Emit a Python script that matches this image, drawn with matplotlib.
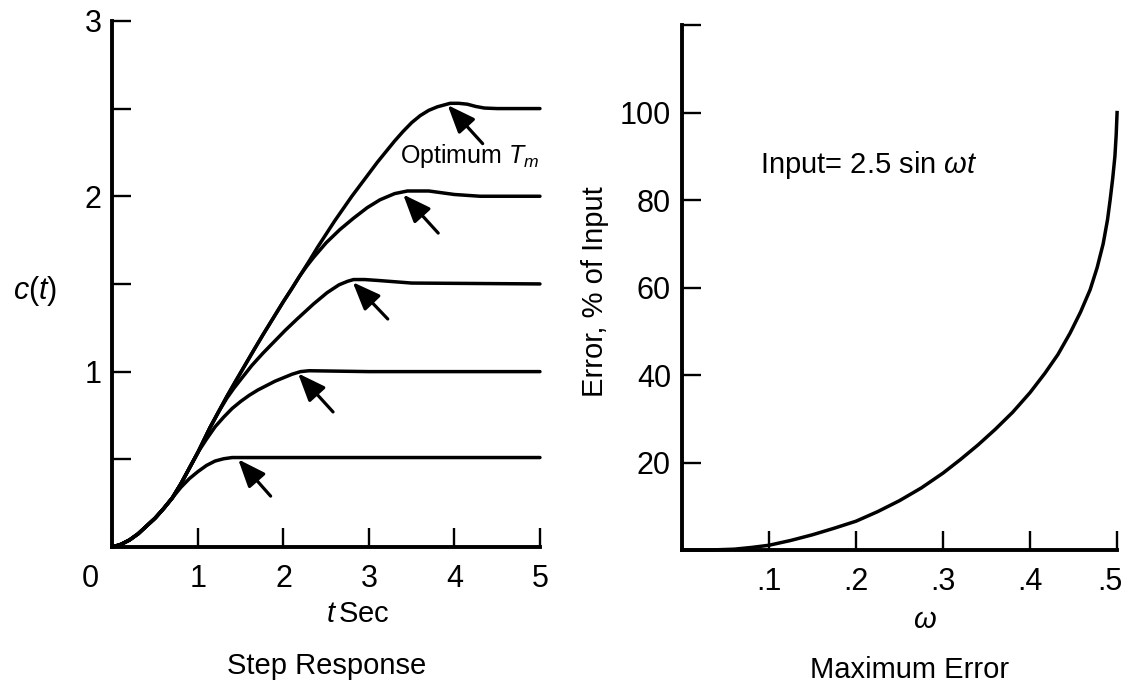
import matplotlib
matplotlib.use('Agg')
import matplotlib.pyplot as plt
from matplotlib.transforms import ScaledTranslation

plt.rcParams['font.family'] = ['Liberation Sans', 'DejaVu Sans']
plt.rcParams['mathtext.fontset'] = 'custom'
plt.rcParams['mathtext.rm'] = 'Liberation Sans'
plt.rcParams['mathtext.it'] = 'Liberation Sans:italic'

# step response c(t), one curve per final value
t_05 = [0, 0.1, 0.2, 0.3, 0.4, 0.5, 0.6, 0.7, 0.8, 0.9, 1.0, 1.1, 1.2, 1.3, 1.4, 1.5, 5.0]
c_05 = [0, 0.015, 0.04, 0.075, 0.12, 0.165, 0.22, 0.28, 0.34, 0.39, 0.43, 0.465, 0.49, 0.503, 0.51, 0.51, 0.51]

t_10 = [0, 0.1, 0.2, 0.3, 0.4, 0.5, 0.6, 0.7, 0.8, 0.9, 1.0, 1.1, 1.2, 1.3, 1.4, 1.5, 1.6,
        1.7, 1.8, 1.9, 2.0, 2.1, 2.2, 2.3, 3.0, 5.0]
c_10 = [0, 0.015, 0.04, 0.075, 0.12, 0.165, 0.22, 0.28, 0.36, 0.45, 0.54, 0.615, 0.685, 0.74, 0.79, 0.83, 0.865,
        0.895, 0.92, 0.945, 0.965, 0.985, 1.0, 1.005, 1.0, 1.0]

t_15 = [0, 0.1, 0.2, 0.3, 0.4, 0.5, 0.6, 0.7, 0.8, 0.9, 1.0, 1.14, 1.24, 1.34, 1.42, 1.5, 1.63,
        1.76, 1.9, 2.02, 2.16, 2.35, 2.51, 2.65, 2.75, 2.82, 2.95, 3.1, 3.5, 5.0]
c_15 = [0, 0.015, 0.04, 0.075, 0.12, 0.165, 0.22, 0.28, 0.36, 0.45, 0.54, 0.68, 0.77, 0.85, 0.905, 0.955, 1.035,
        1.105, 1.175, 1.235, 1.30, 1.385, 1.45, 1.495, 1.515, 1.525, 1.525, 1.52, 1.505, 1.5]

t_20 = [0, 0.1, 0.2, 0.3, 0.4, 0.5, 0.6, 0.7, 0.8, 0.9, 1.0, 1.14, 1.24, 1.34, 1.44, 1.53, 1.65,
        1.76, 1.88, 2.0, 2.1, 2.19, 2.27, 2.35, 2.5, 2.66, 2.82, 2.98, 3.13, 3.3, 3.45, 3.7, 4.0, 4.3, 5.0]
c_20 = [0, 0.015, 0.04, 0.075, 0.12, 0.165, 0.22, 0.28, 0.36, 0.45, 0.54, 0.68, 0.77, 0.86, 0.945, 1.02, 1.12,
        1.21, 1.305, 1.40, 1.475, 1.545, 1.60, 1.65, 1.735, 1.81, 1.875, 1.935, 1.98, 2.015, 2.03, 2.03, 2.01, 2.0, 2.0]

t_25 = [0, 0.1, 0.2, 0.3, 0.4, 0.5, 0.6, 0.7, 0.8, 0.9, 1.0, 1.14, 1.24, 1.34, 1.44, 1.53, 1.65,
        1.76, 1.88, 2.0, 2.1, 2.19, 2.3, 2.4, 2.5, 2.6, 2.7, 2.8, 2.9, 3.0, 3.1, 3.2, 3.3, 3.4, 3.5,
        3.6, 3.7, 3.8, 3.95, 4.05, 4.15, 4.25, 4.35, 4.5, 5.0]
c_25 = [0, 0.015, 0.04, 0.075, 0.12, 0.165, 0.22, 0.28, 0.36, 0.45, 0.54, 0.68, 0.77, 0.86, 0.945, 1.02, 1.12,
        1.21, 1.305, 1.40, 1.475, 1.545, 1.63, 1.71, 1.785, 1.86, 1.93, 2.0, 2.065, 2.13, 2.195, 2.255, 2.315, 2.37, 2.42,
        2.46, 2.49, 2.51, 2.53, 2.53, 2.525, 2.512, 2.503, 2.5, 2.5]

# arrow tips (at the optimum point) and tails
arrow_tip_t = [1.47, 2.17, 2.81, 3.40, 3.92]
arrow_tip_c = [0.50, 0.99, 1.51, 2.01, 2.52]
arrow_tail_t = [1.85, 2.58, 3.22, 3.81, 4.33]
arrow_tail_c = [0.29, 0.77, 1.30, 1.79, 2.30]

# maximum error vs omega
omega = [0, 0.03, 0.06, 0.08, 0.10, 0.125, 0.15, 0.175, 0.20, 0.225, 0.25, 0.275, 0.30, 0.32, 0.34,
         0.36, 0.38, 0.40, 0.417, 0.432, 0.446, 0.458, 0.469, 0.477, 0.484, 0.489, 0.492, 0.495,
         0.4975, 0.499, 0.50]
err = [0, 0, 0.2, 0.6, 1.1, 2.2, 3.5, 5.0, 6.6, 8.8, 11.3, 14.2, 17.6, 20.7, 24,
       27.6, 31.5, 36, 40.4, 44.7, 49.6, 54.4, 59.5, 64.5, 70, 75.5, 80, 85,
       90, 95, 100]

step_yticks = [0.5, 1, 1.5, 2, 2.5, 3]
step_ylabels = ['', '1', '', '2', '', '3']
step_xticks = [0, 1, 2, 3, 4, 5]
err_xticks = [0.1, 0.2, 0.3, 0.4, 0.5]
err_xlabels = ['.1', '.2', '.3', '.4', '.5']
err_yticks = [20, 40, 60, 80, 100, 120]
err_ylabels = ['20', '40', '60', '80', '100', '']

fig = plt.figure(figsize=(11.27, 6.85), dpi=100)
ax1 = fig.add_axes([0.0998, 0.2015, 0.3793, 0.768])
ax2 = fig.add_axes([0.6052, 0.197, 0.386, 0.7664])

lw = 2.5
for ax in (ax1, ax2):
    for s in ('top', 'right'):
        ax.spines[s].set_visible(False)
    for s in ('left', 'bottom'):
        ax.spines[s].set_linewidth(2.8)
    ax.tick_params(direction='in', length=14, width=1.7, labelsize=22)
    ax.tick_params(axis='x', pad=12)
    ax.tick_params(axis='y', pad=8)

# left: step response
for tt, cc in [(t_05, c_05), (t_10, c_10), (t_15, c_15), (t_20, c_20), (t_25, c_25)]:
    ax1.plot(tt, cc, color='black', lw=lw, clip_on=False,
             solid_capstyle='round', solid_joinstyle='round')
for i in range(len(arrow_tip_t)):
    ax1.annotate('', xy=(arrow_tip_t[i], arrow_tip_c[i]),
                 xytext=(arrow_tail_t[i], arrow_tail_c[i]),
                 arrowprops=dict(arrowstyle='-|>,head_length=0.85,head_width=0.34',
                                 mutation_scale=20, lw=2.3, color='black',
                                 shrinkA=0, shrinkB=0))
ax1.set_xlim(0, 5)
ax1.set_ylim(0, 3)
ax1.set_xticks(step_xticks)
ax1.set_yticks(step_yticks)
ax1.set_yticklabels(step_ylabels)
lab0 = ax1.get_xticklabels()[0]
lab0.set_transform(lab0.get_transform() + ScaledTranslation(-16 / 72, 0, fig.dpi_scale_trans))

ax1.text(3.36, 2.23, r'Optimum $T_m$', fontsize=18, va='center', ha='left')
ax1.text(-0.9, 1.46, r'$c(t)$', fontsize=22, va='center', ha='center')
ax1.text(2.87, -0.38, r'$t\,$Sec', fontsize=21, va='center', ha='center')
ax1.text(2.5, -0.68, 'Step Response', fontsize=21, va='center', ha='center')

# right: maximum error
ax2.plot(omega, err, color='black', lw=lw, clip_on=False, solid_joinstyle='round')
ax2.set_xlim(0, 0.5)
ax2.set_ylim(0, 120)
ax2.set_xticks(err_xticks)
ax2.set_xticklabels(err_xlabels)
ax2.set_yticks(err_yticks)
ax2.set_yticklabels(err_ylabels)
lab5 = ax2.get_xticklabels()[-1]
lab5.set_transform(lab5.get_transform() + ScaledTranslation(-5 / 72, 0, fig.dpi_scale_trans))
ax2.text(0.09, 88, r'Input= 2.5 sin $\omega t$', fontsize=21, va='center', ha='left')
ax2.text(-0.1, 59, 'Error, % of Input', fontsize=21, rotation=90, va='center', ha='center')
ax2.text(0.279, -16, r'$\omega$', fontsize=21, va='center', ha='center')
ax2.text(0.262, -27.5, 'Maximum Error', fontsize=21, va='center', ha='center')

fig.savefig('out.png', dpi=100)
